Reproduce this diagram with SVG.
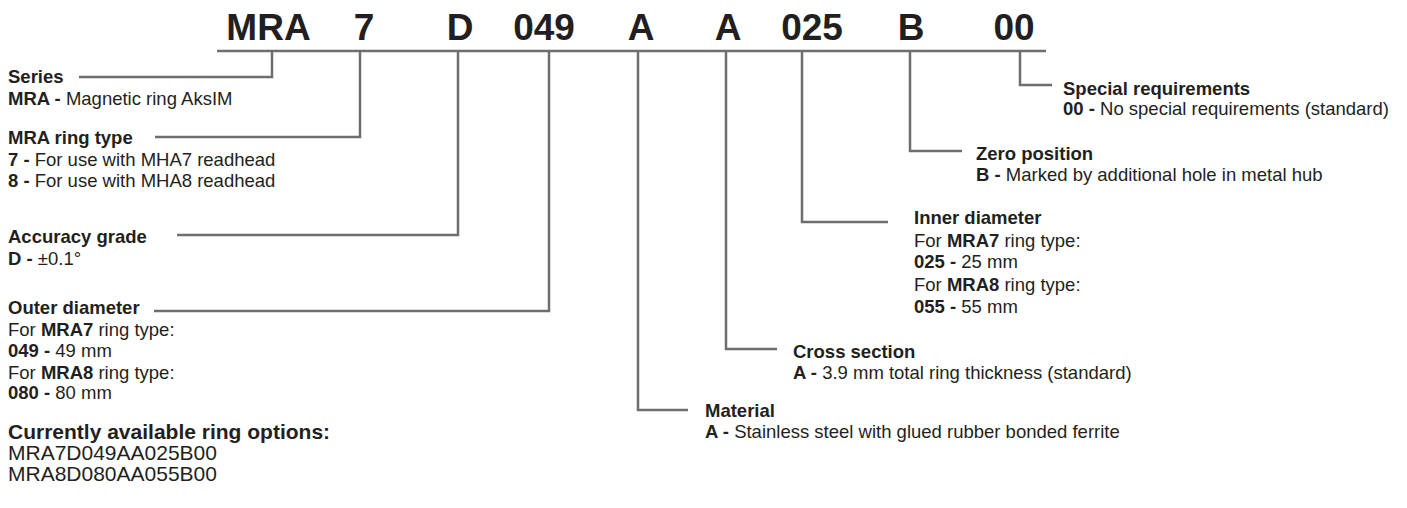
<svg xmlns="http://www.w3.org/2000/svg" width="1407" height="508" viewBox="0 0 1407 508">
<style>
text{font-family:"Liberation Sans",Arial,Helvetica,sans-serif;fill:#231f20;font-size:18.5px}
.b{font-weight:bold}
.t{font-size:37px;font-weight:bold;text-anchor:middle}
.big{font-size:21px}
.c{fill:none;stroke:#6d6e71;stroke-width:2.5}
</style>
<rect width="1407" height="508" fill="#ffffff"/>
<g id="code">
<text class="t" x="268.5" y="40">MRA</text>
<text class="t" x="364" y="40">7</text>
<text class="t" x="460" y="40">D</text>
<text class="t" x="544" y="40">049</text>
<text class="t" x="641" y="40">A</text>
<text class="t" x="728" y="40">A</text>
<text class="t" x="812" y="40">025</text>
<text class="t" x="911" y="40">B</text>
<text class="t" x="1014" y="40">00</text>
</g>
<g id="connectors">
<path class="c" d="M217 51H1046"/>
<path class="c" d="M272 51V77H79"/>
<path class="c" d="M360 51V137H155"/>
<path class="c" d="M458 51V235H177"/>
<path class="c" d="M549 51V311H154"/>
<path class="c" d="M638 51V410H688"/>
<path class="c" d="M726 51V349H777"/>
<path class="c" d="M802 51V222H888"/>
<path class="c" d="M910 51V151H962"/>
<path class="c" d="M1020 51V85H1052"/>
</g>
<g id="series">
<text class="b" x="8" y="83">Series</text>
<text x="8" y="105"><tspan class="b">MRA - </tspan>Magnetic ring AksIM</text>
</g>
<g id="ring-type">
<text class="b" x="8" y="144">MRA ring type</text>
<text x="8" y="166"><tspan class="b">7 - </tspan>For use with MHA7 readhead</text>
<text x="8" y="187"><tspan class="b">8 - </tspan>For use with MHA8 readhead</text>
</g>
<g id="accuracy">
<text class="b" x="8" y="243">Accuracy grade</text>
<text x="8" y="265"><tspan class="b">D - </tspan>±0.1°</text>
</g>
<g id="outer-diameter">
<text class="b" x="8" y="314">Outer diameter</text>
<text x="8" y="336">For <tspan class="b">MRA7</tspan> ring type:</text>
<text x="8" y="357"><tspan class="b">049 - </tspan>49 mm</text>
<text x="8" y="379">For <tspan class="b">MRA8</tspan> ring type:</text>
<text x="8" y="399"><tspan class="b">080 - </tspan>80 mm</text>
</g>
<g id="options">
<text class="b big" x="8" y="439">Currently available ring options:</text>
<text class="big" x="8" y="460">MRA7D049AA025B00</text>
<text class="big" x="8" y="481">MRA8D080AA055B00</text>
</g>
<g id="special">
<text class="b" x="1063" y="95">Special requirements</text>
<text x="1063" y="115"><tspan class="b">00 - </tspan>No special requirements (standard)</text>
</g>
<g id="zero">
<text class="b" x="976" y="160">Zero position</text>
<text x="976" y="181"><tspan class="b">B - </tspan>Marked by additional hole in metal hub</text>
</g>
<g id="inner-diameter">
<text class="b" x="914" y="224">Inner diameter</text>
<text x="914" y="247">For <tspan class="b">MRA7</tspan> ring type:</text>
<text x="914" y="268"><tspan class="b">025 - </tspan>25 mm</text>
<text x="914" y="291">For <tspan class="b">MRA8</tspan> ring type:</text>
<text x="914" y="313"><tspan class="b">055 - </tspan>55 mm</text>
</g>
<g id="cross-section">
<text class="b" x="793" y="358">Cross section</text>
<text x="793" y="379"><tspan class="b">A - </tspan>3.9 mm total ring thickness (standard)</text>
</g>
<g id="material">
<text class="b" x="705" y="417">Material</text>
<text x="705" y="438"><tspan class="b">A - </tspan>Stainless steel with glued rubber bonded ferrite</text>
</g>
</svg>
